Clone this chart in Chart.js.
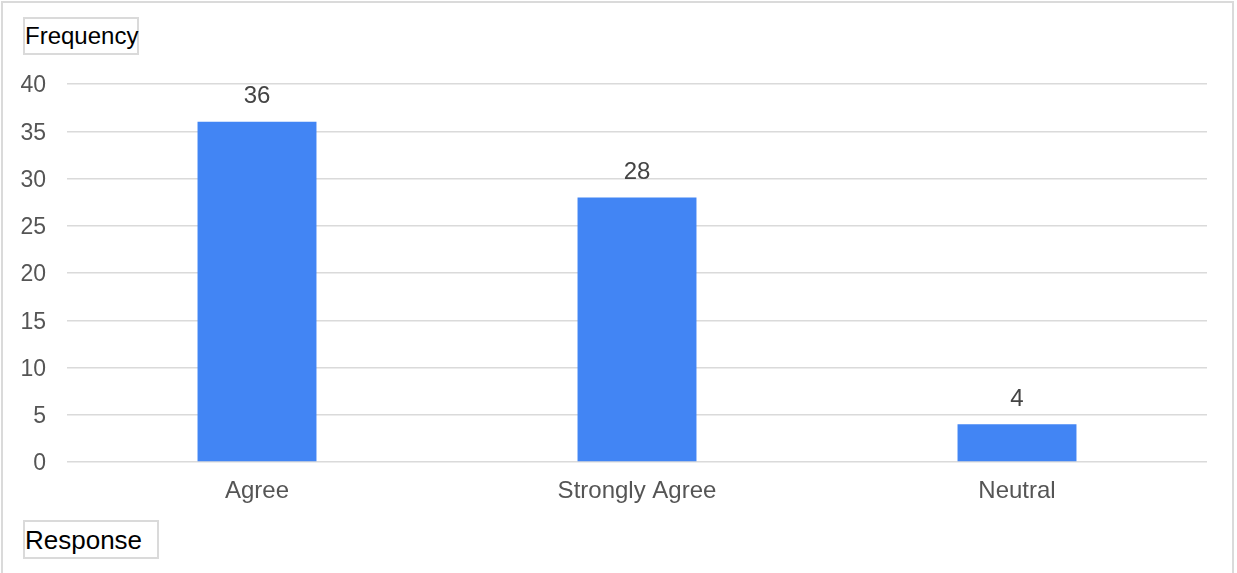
<!DOCTYPE html>
<html>
<head>
<meta charset="utf-8">
<script src="https://cdn.jsdelivr.net/npm/chart.js@4.4.1/dist/chart.umd.min.js"></script>
<style>
  html, body { margin: 0; padding: 0; background: #fff; }
  #wrap { position: relative; width: 1237px; height: 573px; overflow: hidden; font-family: "Liberation Sans", Arial, sans-serif; }
  #frame { position: absolute; left: 1px; top: 1px; width: 1233px; height: 580px; border: 2px solid #dadada; box-sizing: border-box; }
  canvas { position: absolute; left: 0; top: 0; }
  .tbox { position: absolute; border: 2px solid #dadada; box-sizing: border-box; color: #000; line-height: 34px; padding-left: 0px; background: #fff; white-space: nowrap; }
</style>
</head>
<body>
<div id="wrap">
  <div id="frame"></div>
  <canvas id="c" width="1237" height="573"></canvas>
  <div class="tbox" style="left:23px; top:17px; width:116px; height:38px; font-size:24px;">Frequency</div>
  <div class="tbox" style="left:23px; top:520px; width:136px; height:39px; font-size:26px; line-height:36px;">Response</div>
</div>
<script>
const categories = ["Agree", "Strongly Agree", "Neutral"];
const frequencies = [36, 28, 4];
const yTicks = [0, 5, 10, 15, 20, 25, 30, 35, 40];

const FONT = '"Liberation Sans", Arial, sans-serif';

const barLabels = {
  id: 'barLabels',
  afterDatasetsDraw(chart) {
    const ctx = chart.ctx;
    const meta = chart.getDatasetMeta(0);
    ctx.save();
    ctx.font = '24px ' + FONT;
    ctx.fillStyle = '#444444';
    ctx.textAlign = 'center';
    ctx.textBaseline = 'middle';
    meta.data.forEach((bar, i) => {
      ctx.fillText(String(frequencies[i]), bar.x, bar.y - 25);
    });
    ctx.restore();
  }
};

new Chart(document.getElementById('c'), {
  type: 'bar',
  data: {
    labels: categories,
    datasets: [{
      data: frequencies,
      backgroundColor: '#4285f4',
      borderWidth: 0,
      barPercentage: 0.313,
      categoryPercentage: 1
    }]
  },
  options: {
    responsive: false,
    animation: false,
    events: [],
    layout: { padding: { left: 0, right: 30, top: 84, bottom: 0 } },
    plugins: { legend: { display: false }, tooltip: { enabled: false } },
    scales: {
      x: {
        grid: { display: false, drawTicks: false },
        border: { display: false },
        ticks: { color: '#555555', font: { size: 24, family: FONT }, padding: 15, maxRotation: 0 },
        afterFit(s) { s.height = 111; }
      },
      y: {
        min: 0, max: 40,
        afterBuildTicks(s) { s.ticks = yTicks.map(v => ({ value: v })); },
        grid: { color: '#dadada', lineWidth: 1.5, drawTicks: false },
        border: { display: false },
        ticks: { color: '#555555', font: { size: 23, family: FONT }, padding: 21, labelOffset: 2 },
        afterFit(s) { s.width = 67; }
      }
    }
  },
  plugins: [barLabels]
});
</script>
</body>
</html>
